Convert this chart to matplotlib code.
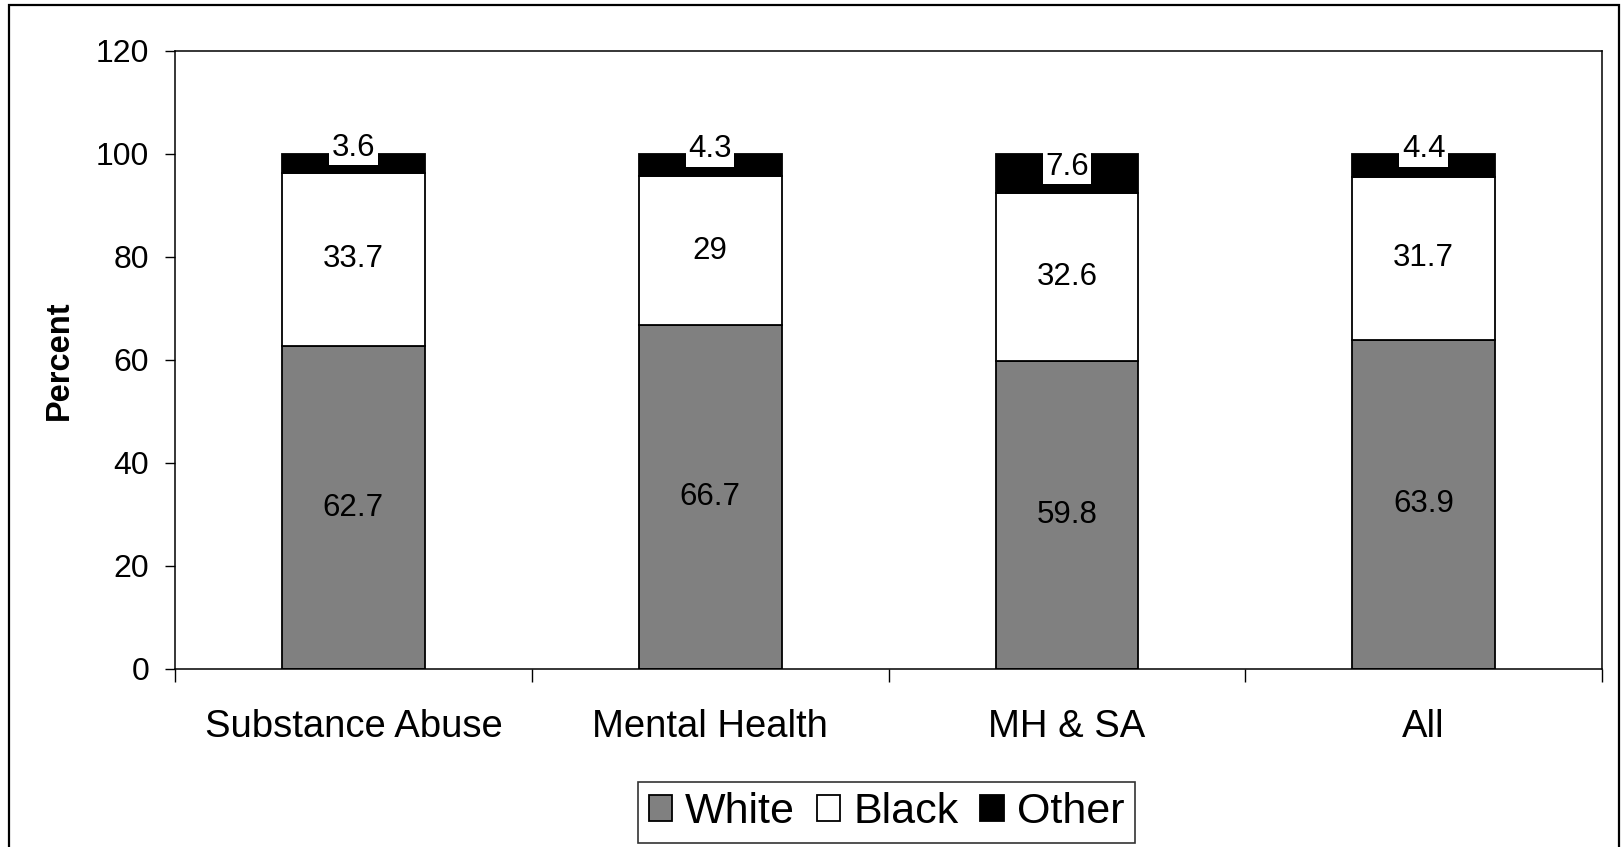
import matplotlib.pyplot as plt
from matplotlib.patches import Rectangle

plt.rcParams['font.family'] = ['Liberation Sans', 'DejaVu Sans']

# Treatment groups and race shares (percent)
categories = ["Substance Abuse", "Mental Health", "MH & SA", "All"]
white = [62.7, 66.7, 59.8, 63.9]
black = [33.7, 29.0, 32.6, 31.7]
other = [3.6, 4.3, 7.6, 4.4]
other_labels = ["3.6", "4.3", "7.6", "4.4"]
black_labels = ["33.7", "29", "32.6", "31.7"]
white_labels = ["62.7", "66.7", "59.8", "63.9"]

# upward nudge (points) for the small "Other" labels
other_nudge = [11, 11.5, 5, 11.5]

fig = plt.figure(figsize=(16.22, 8.47), dpi=100)
ax = fig.add_axes([0.1079, 0.2102, 0.8798, 0.7296])

x = list(range(len(categories)))
w = 0.40
bw = [a + b for a, b in zip(white, black)]

ax.bar(x, white, w, color="#808080", edgecolor="black", linewidth=1.3, label="White", zorder=2)
ax.bar(x, black, w, bottom=white, color="white", edgecolor="black", linewidth=1.3, label="Black", zorder=2)
ax.bar(x, other, w, bottom=bw, color="black", edgecolor="black", linewidth=1.3, label="Other", zorder=2)

for i in x:
    ax.text(i, white[i] / 2, white_labels[i], ha="center", va="center", fontsize=22.5, zorder=3)
    ax.text(i, white[i] + black[i] / 2, black_labels[i], ha="center", va="center", fontsize=22.5, zorder=3)
    ax.annotate(other_labels[i], (i, bw[i] + other[i] / 2), xytext=(0, other_nudge[i]),
                textcoords="offset points", ha="center", va="center", fontsize=22.5, zorder=4,
                bbox=dict(boxstyle="square,pad=0.08", fc="white", ec="none"))

ax.set_xlim(-0.5, 3.5)
ax.set_ylim(0, 120)
ax.set_yticks(range(0, 121, 20))
ax.tick_params(axis="y", labelsize=23, length=7.5, width=1, pad=11)

# category boundaries get the tick marks, names sit on minor ticks
ax.set_xticks([-0.5, 0.5, 1.5, 2.5, 3.5])
ax.set_xticklabels([])
ax.tick_params(axis="x", which="major", length=9.5, width=1)
ax.set_xticks(x, minor=True)
ax.set_xticklabels(categories, minor=True)
ax.tick_params(axis="x", which="minor", length=0, labelsize=27.5, pad=29)

for s in ax.spines.values():
    s.set_linewidth(1.1)

ax.set_ylabel("Percent", fontsize=23.5, fontweight="bold")
ax.yaxis.set_label_coords(-0.070, 0.5)

leg = fig.legend(loc="center", bbox_to_anchor=(0.5465, 0.041), ncol=3, fontsize=31,
                 frameon=True, fancybox=False, edgecolor="black", handlelength=0.55,
                 handleheight=0.55, handletextpad=0.3, columnspacing=0.5,
                 borderpad=0.25, borderaxespad=0)
leg.get_frame().set_linewidth(1.2)

# chart border (open at the bottom edge)
fig.patches.append(Rectangle((9 / 1622, -0.05), 1610 / 1622, 1.05 - 5 / 847, transform=fig.transFigure,
                             fill=False, edgecolor="black", linewidth=1.6))

fig.savefig("out.png", dpi=100)
